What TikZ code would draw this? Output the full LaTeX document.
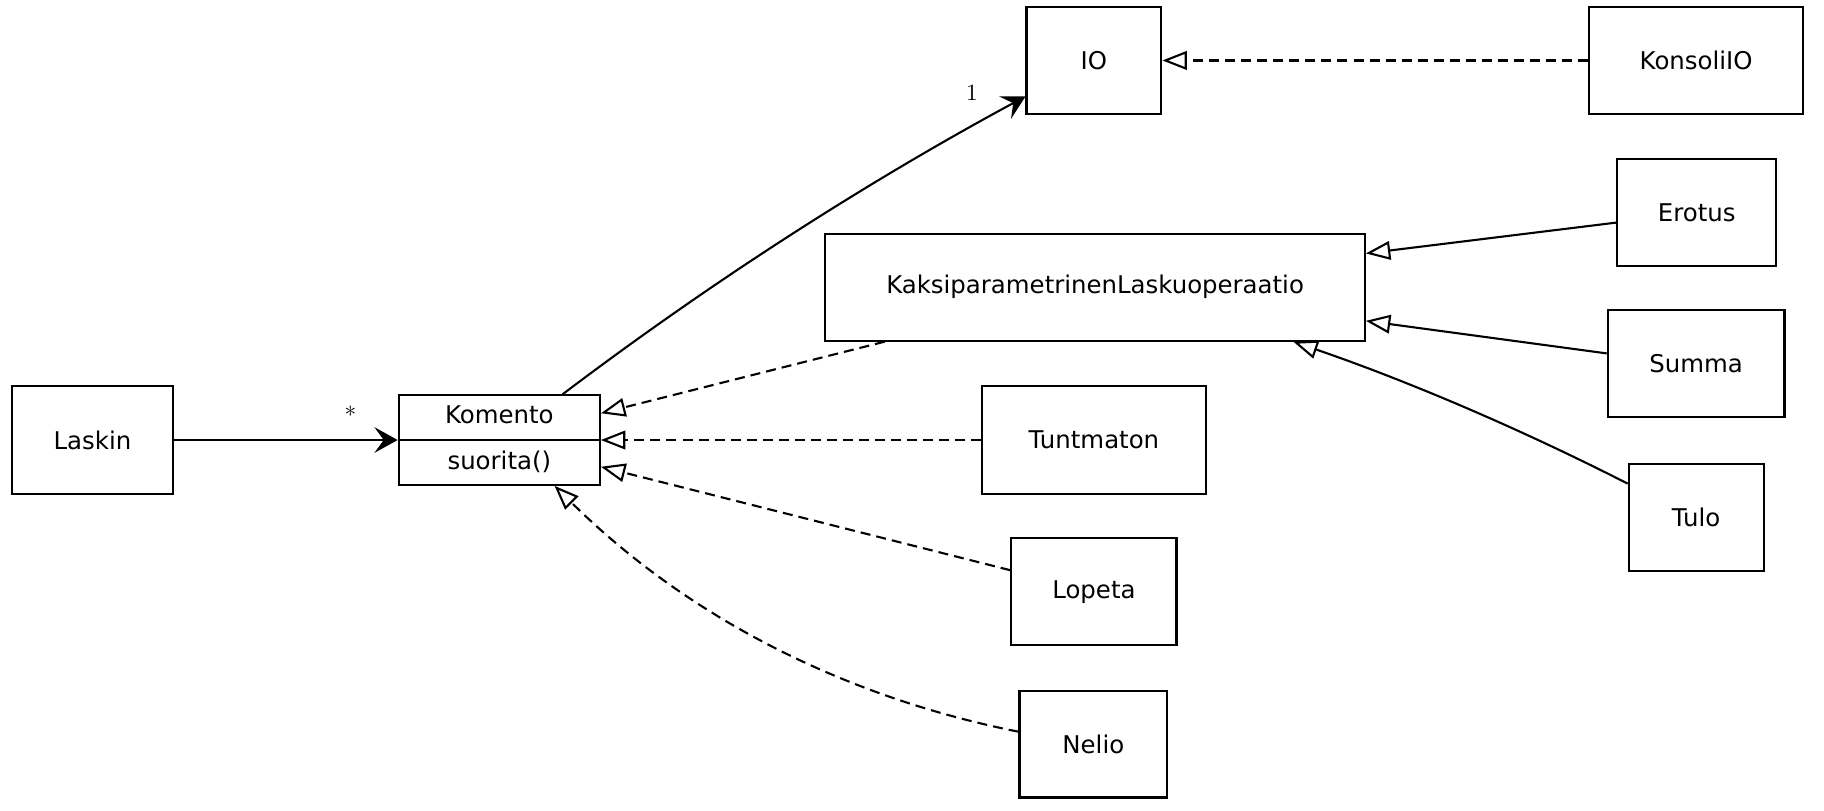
\documentclass[tikz,border=0pt]{standalone}
\usepackage{fontspec}
\newfontfamily\dejavu{DejaVu Sans}
\usetikzlibrary{arrows.meta}
\begin{document}
\begin{tikzpicture}[x=0.5pt,y=-0.5pt,
  cls/.style={draw, line width=0.9pt, inner sep=0pt, font=\dejavu\fontsize{10.5}{12}\selectfont},
  txt/.style={inner sep=0pt, font=\dejavu\fontsize{10.5}{12}\selectfont},
  mult/.style={inner sep=0pt, font=\fontsize{10}{12}\selectfont},
  conn/.style={line width=0.9pt},
  assoc/.style={conn, -{Stealth[length=10pt, width=11pt, inset=4pt]}},
  gen/.style={conn, line join=miter, -{Triangle[open, length=10.5pt, width=8pt]}},
  real/.style={gen, dash pattern=on 4.3pt off 2.6pt},
]
\useasboundingbox (0,0) rectangle (1569,697);

% classes
\node[cls, minimum width=69.5pt, minimum height=46.5pt] (Laskin) at (79.5,378.5) {Laskin};
\node[cls, minimum width=86.5pt, minimum height=38.5pt] (Komento) at (429.5,378.5) {};
\node[txt] (kname) at (429.5,357) {Komento};
\node[txt] (kop) at (429.5,397) {suorita()};
\draw[conn] (Komento.west) -- (Komento.east);
\node[cls, minimum width=58pt, minimum height=46pt] (IO) at (941,52) {IO};
\node[cls, minimum width=92pt, minimum height=46pt] (KonsoliIO) at (1459,52) {KonsoliIO};
\node[cls, minimum width=68.5pt, minimum height=46pt] (Erotus) at (1459.5,183) {Erotus};
\node[cls, minimum width=232pt, minimum height=46pt] (Kaksi) at (942,247) {KaksiparametrinenLaskuoperaatio};
\node[cls, minimum width=76pt, minimum height=46pt] (Summa) at (1459,313) {Summa};
\node[cls, minimum width=96pt, minimum height=46.5pt] (Tuntmaton) at (941,378.5) {Tuntmaton};
\node[cls, minimum width=58pt, minimum height=46pt] (Tulo) at (1459,445) {Tulo};
\node[cls, minimum width=71pt, minimum height=46pt] (Lopeta) at (941,509) {Lopeta};
\node[cls, minimum width=63.5pt, minimum height=46pt] (Nelio) at (940.5,640) {Nelio};

% multiplicities
\node[mult] (star) at (301.5,357) {*};
\node[mult] (one) at (836,80) {1};

% associations
\draw[assoc] (Laskin.east) -- (Komento.west);
\draw[assoc] ([xshift=27.25pt]Komento.north) .. controls (610.7,243.3) and (743.7,157.7) .. ([yshift=-15.5pt]IO.west);

% realizations
\draw[real] (KonsoliIO.west) -- (IO.east);
\draw[real] ([xshift=-90.5pt]Kaksi.south) -- ([yshift=11.5pt]Komento.east);
\draw[real] (Tuntmaton.west) -- (Komento.east);
\draw[real] ([yshift=9.25pt]Lopeta.west) -- ([yshift=-11.5pt]Komento.east);
\draw[real] ([yshift=5.3pt]Nelio.west) .. controls (721.7,598.7) and (588.3,527.9) .. ([xshift=23.75pt]Komento.south);

% generalizations
\draw[gen] ([yshift=-4.25pt]Erotus.west) -- ([yshift=14.5pt]Kaksi.east);
\draw[gen] ([yshift=4.5pt]Summa.west) -- ([yshift=-14.5pt]Kaksi.east);
\draw[gen] ([yshift=14.5pt]Tulo.west) .. controls (1307.3,368.7) and (1211.2,327.8) .. ([xshift=85.25pt]Kaksi.south);
\end{tikzpicture}
\end{document}
